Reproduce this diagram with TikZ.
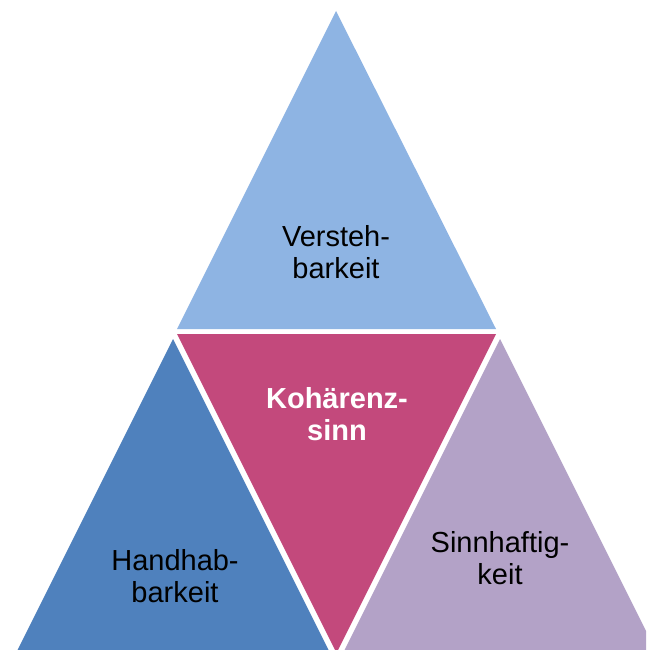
\documentclass[tikz,border=0pt]{standalone}
\usepackage{fontspec}
\setmainfont{Liberation Sans}
\definecolor{topblue}{RGB}{142,180,227}
\definecolor{midmag}{RGB}{195,73,124}
\definecolor{leftblue}{RGB}{79,129,189}
\definecolor{rightlav}{RGB}{179,162,199}
\tikzset{
  tri/.style={draw=none},
  lbl/.style={align=center, font=\fontsize{29}{32}\selectfont, text=black, inner sep=0pt},
}
\begin{document}
\begin{tikzpicture}[x=1pt,y=-1pt]
\useasboundingbox (0,0) rectangle (646,650);
\clip (0,0) rectangle (646,650);
\fill[white] (0,0) rectangle (646,650);
\fill[tri, topblue] (336,11) -- (496,329) -- (177,329) -- cycle;
\fill[tri, midmag] (177,334) -- (496,334) -- (336.5,653) -- cycle;
\fill[tri, leftblue] (173,339) -- (332,657) -- (14,657) -- cycle;
\fill[tri, rightlav] (500,339) -- (659,657) -- (341,657) -- cycle;
\node[lbl] (v) at (336,252) {Versteh-\\barkeit};
\node[lbl, text=white, font=\fontsize{29}{32}\selectfont\bfseries] (k) at (337,414) {Kohärenz-\\sinn};
\node[lbl] (h) at (175,576) {Handhab-\\barkeit};
\node[lbl] (s) at (500,558) {Sinnhaftig-\\keit};
\end{tikzpicture}
\end{document}
